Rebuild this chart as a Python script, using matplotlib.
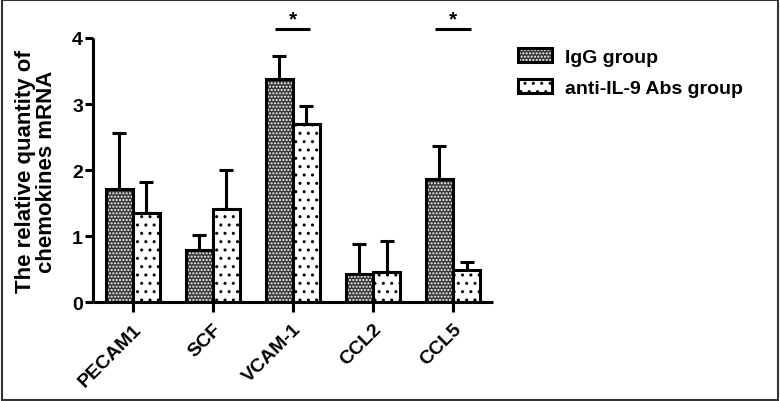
#!/usr/bin/env python3

import matplotlib
matplotlib.use("Agg")
import matplotlib.pyplot as plt
from matplotlib.patches import Rectangle
import numpy

genes = ["PECAM1", "SCF", "VCAM-1", "CCL2", "CCL5"]
igg_mean = [1.71, 0.79, 3.38, 0.42, 1.86]
igg_err = [0.85, 0.22, 0.34, 0.46, 0.51]
anti_mean = [1.35, 1.41, 2.69, 0.45, 0.49]
anti_err = [0.47, 0.59, 0.28, 0.47, 0.11]
# pairs with a significant difference
sig_genes = ["VCAM-1", "CCL5"]

plt.rcParams['font.family'] = ['Liberation Sans', 'DejaVu Sans']
plt.rcParams['font.weight'] = 'bold'
plt.rcParams['hatch.linewidth'] = 1.0

LW = 2.2
FS = 14
fig = plt.figure(figsize=(7.8, 4.02), dpi=100)
ax = fig.add_axes([0.119, 0.246, 0.513, 0.657])

x = numpy.arange(len(genes))
w = 0.34

# IgG bars: dark fill with white dots, then the black outline on top
ax.bar(x - w/2, igg_mean, w, color="#363636", edgecolor="white",
       hatch=".....", linewidth=0, zorder=2)
ax.bar(x - w/2, igg_mean, w, facecolor="none", edgecolor="black",
       linewidth=LW, zorder=3)
ax.bar(x + w/2, anti_mean, w, color="white", edgecolor="black",
       hatch="..", linewidth=LW, zorder=3)

ax.errorbar(x - w/2, igg_mean, yerr=[numpy.zeros(len(genes)), igg_err],
            fmt="none", ecolor="black", elinewidth=LW, capsize=5,
            capthick=LW, zorder=1)
ax.errorbar(x + w/2, anti_mean, yerr=[numpy.zeros(len(genes)), anti_err],
            fmt="none", ecolor="black", elinewidth=LW, capsize=5,
            capthick=LW, zorder=1)

for g in sig_genes:
    i = genes.index(g)
    ax.plot([i - 0.22, i + 0.22], [4.13, 4.13], color="black", lw=LW,
            clip_on=False, solid_capstyle="butt")
    ax.text(i, 4.15, "*", ha="center", va="bottom", fontsize=15,
            fontweight="bold")

ax.set_xlim(-0.5, 4.5)
ax.set_ylim(0, 4)
ax.set_yticks([0, 1, 2, 3, 4])
ax.set_xticks(x)
ax.set_xticklabels(genes, rotation=45, ha="right", rotation_mode="anchor",
                   fontsize=FS, fontweight="bold")
ax.tick_params(axis="y", labelsize=FS, width=LW, length=6, pad=1)
ax.tick_params(axis="x", width=LW, length=7, pad=6)
for s in ["top", "right"]:
    ax.spines[s].set_visible(False)
for s in ["left", "bottom"]:
    ax.spines[s].set_linewidth(LW)
    ax.spines[s].set_capstyle("butt")

fig.text(0.046, 0.572, "The relative quantity of\nchemokines mRNA",
         rotation=90, ha="center", va="center", fontsize=16,
         fontweight="bold", linespacing=1.0)

# legend proxies
h_igg = (Rectangle((0, 0), 1, 1, facecolor="#363636", edgecolor="white",
                   hatch=".....", linewidth=0),
         Rectangle((0, 0), 1, 1, facecolor="none", edgecolor="black",
                   linewidth=LW))
h_anti = Rectangle((0, 0), 1, 1, facecolor="white", edgecolor="black",
                   hatch="..", linewidth=LW)
fig.legend([h_igg, h_anti], ["IgG group", "anti-IL-9 Abs group"],
           loc="upper left", bbox_to_anchor=(0.664, 0.877), frameon=False,
           fontsize=FS, handlelength=1.75, handleheight=0.72,
           handletextpad=0.65, labelspacing=0.65, borderpad=0,
           borderaxespad=0)

fig.add_artist(Rectangle((0.002, 0.003), 0.996, 0.994,
                         transform=fig.transFigure, fill=False,
                         edgecolor="#333333", linewidth=1.5))

plt.savefig("out.png", dpi=100)
